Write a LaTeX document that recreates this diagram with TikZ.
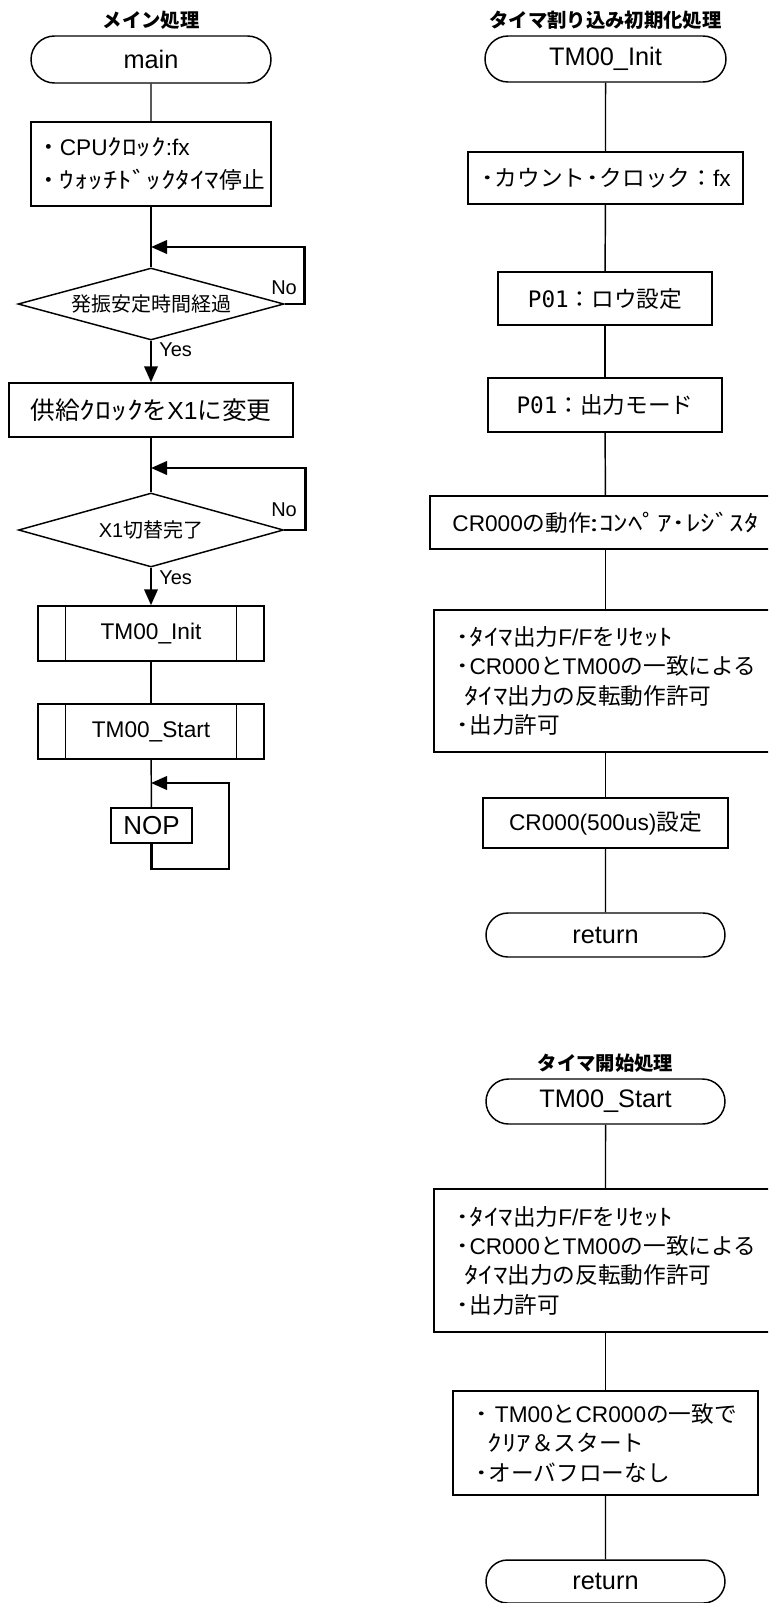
\documentclass[tikz,border=0pt]{standalone}
\usepackage{fontspec}
\setmainfont{Liberation Sans}
\newfontfamily\jpf{Noto Sans CJK JP}
\newfontfamily\hkf{Noto Sans CJK JP}[FakeStretch=1.28]
\newfontfamily\monof{DejaVu Sans Mono}
\newcommand\JP[1]{{\jpf #1}}
\newcommand\HK[1]{{\hkf #1}}
\usetikzlibrary{shapes.misc,shapes.geometric,arrows.meta}
\tikzset{
  base/.style={draw, line width=1.1pt, inner sep=0pt, align=center},
  sz/.style 2 args={minimum width=#1*0.75pt, minimum height=#2*0.75pt},
  term/.style={base, rounded rectangle, font=\fontsize{19pt}{23pt}\selectfont},
  box/.style={base, rectangle, font=\fontsize{17pt}{22pt}\selectfont},
  bigbox/.style={base, rectangle, align=left, font=\fontsize{17pt}{22pt}\selectfont},
  dec/.style={base, diamond, aspect=3.7, font=\fontsize{15pt}{18pt}\selectfont},
  title/.style={font=\fontsize{14.5pt}{16pt}\selectfont\jpf\bfseries, inner sep=0pt},
  conn/.style={line width=1.1pt},
  yesarrow/.style={line width=2pt, -{Triangle[length=12pt,width=10pt]}},
  loopline/.style={line width=2pt, -{Triangle[length=12pt,width=10pt]}},
  lbl/.style={font=\fontsize{15pt}{17pt}\selectfont, inner sep=0pt, anchor=west},
}
\begin{document}
\begin{tikzpicture}[x=0.75pt, y=-0.75pt]
\clip (0,0) rectangle (768,1603);
% ---------------- main column ----------------
\node[title] (t1) at (151,20) {メイン処理};
\node[term, sz={240}{47}] (main) at (151,59.5) {main};
\node[box, sz={240}{84}, align=left, font=\fontsize{17pt}{25pt}\selectfont] (b1) at (151,164)
  {\JP{・}CPU\HK{ｸﾛｯｸ}:fx\\\JP{・}\HK{ｳｫｯﾁﾄﾞｯｸﾀｲﾏ}\JP{停止}};
\coordinate (j1) at (151,247);
\node[dec, sz={266}{72}] (d1) at (151,304) {\JP{発振安定時間経過}};
\node[box, sz={284}{54}, font=\fontsize{18.5pt}{23pt}\selectfont] (b2) at (151,410)
  {\JP{供給}\HK{ｸﾛｯｸ}\JP{を}X1\JP{に変更}};
\coordinate (j2) at (151,468);
\node[dec, sz={265}{74}] (d2) at (151,530) {X1\JP{切替完了}};
\node[box, sz={226}{55}] (s1) at (151,633.5) {TM00\_Init};
\node[box, sz={226}{55}] (s2) at (151,731.5) {TM00\_Start};
\coordinate (j3) at (151,783);
\node[box, sz={81}{35}, font=\fontsize{19.5pt}{23pt}\selectfont] (nop) at (151.5,825.5) {NOP};
\coordinate (c1) at (229,869);
\foreach \n in {s1,s2} {
  \draw[conn] ([xshift=21pt]\n.north west) -- ([xshift=21pt]\n.south west);
  \draw[conn] ([xshift=-21pt]\n.north east) -- ([xshift=-21pt]\n.south east);
}
\node[lbl] (no1) at (271,288) {No};
\node[lbl] (no2) at (271,510) {No};
\node[lbl] (yes1) at (159,350) {Yes};
\node[lbl] (yes2) at (159,578) {Yes};
\draw[conn] (main) -- (b1);
\draw[conn] (b1) -- (d1);
\draw[yesarrow] (d1) -- (b2);
\draw[loopline] (d1.east) -- ++(20,0) |- (j1);
\draw[conn] (b2) -- (d2);
\draw[yesarrow] (d2) -- (s1);
\draw[loopline] (d2.east) -- ++(21,0) |- (j2);
\draw[conn] (s1) -- (s2);
\draw[conn] (s2) -- (nop);
\draw[loopline] (nop.south) |- (c1) |- (j3);
% ---------------- TM00_Init column ----------------
\node[title] (t2) at (605.5,20) {タイマ割り込み初期化処理};
\node[term, sz={241}{46}] (ti) at (605.5,59) {TM00\_Init};
\node[box, sz={275}{52}] (k1) at (605.5,178) {\HK{･}\JP{カウント}\HK{･}\JP{クロック：}fx};
\node[box, sz={214}{53}] (p1) at (605,298.5) {{\monof P01}\JP{：ロウ設定}};
\node[box, sz={234}{54}] (p2) at (605,405) {{\monof P01}\JP{：出力モード}};
\node[box, sz={351}{53}] (cr) at (605.5,522.5) {CR000\JP{の動作}\HK{:ｺﾝﾍﾟｱ･ﾚｼﾞｽﾀ}};
\node[bigbox, sz={343}{142}] (bb1) at (605.5,681)
  {\HK{･ﾀｲﾏ}\JP{出力}F/F\JP{を}\HK{ﾘｾｯﾄ}\\\HK{･}CR000\JP{と}TM00\JP{の一致による}\\\hspace*{0.4em}\HK{ﾀｲﾏ}\JP{出力の反転動作許可}\\\HK{･}\JP{出力許可}};
\node[box, sz={245}{50}] (c5) at (605.5,823) {CR000(500us)\JP{設定}};
\node[term, sz={239}{44}] (r1) at (605.5,935) {return};
\draw[conn] (ti) -- (k1);
\draw[conn] (k1) -- (p1);
\draw[conn] (p1) -- (p2);
\draw[conn] (p2) -- (cr);
\draw[conn] (cr) -- (bb1);
\draw[conn] (bb1) -- (c5);
\draw[conn] (c5) -- (r1);
% ---------------- TM00_Start column ----------------
\node[title] (t3) at (605.5,1063) {タイマ開始処理};
\node[term, sz={239}{45}] (ts) at (605.5,1101.5) {TM00\_Start};
\node[bigbox, sz={343}{143}] (bb2) at (605.5,1260.5)
  {\HK{･ﾀｲﾏ}\JP{出力}F/F\JP{を}\HK{ﾘｾｯﾄ}\\\HK{･}CR000\JP{と}TM00\JP{の一致による}\\\hspace*{0.4em}\HK{ﾀｲﾏ}\JP{出力の反転動作許可}\\\HK{･}\JP{出力許可}};
\node[bigbox, sz={305}{104}] (cc) at (605.5,1443)
  {\HK{･} TM00\JP{と}CR000\JP{の一致で}\\\hspace*{0.6em}\HK{ｸﾘｱ}\JP{＆スタート}\\\HK{･}\JP{オーバフローなし}};
\node[term, sz={239}{43}] (r2) at (605.5,1581.5) {return};
\draw[conn] (ts) -- (bb2);
\draw[conn] (bb2) -- (cc);
\draw[conn] (cc) -- (r2);
\end{tikzpicture}
\end{document}
